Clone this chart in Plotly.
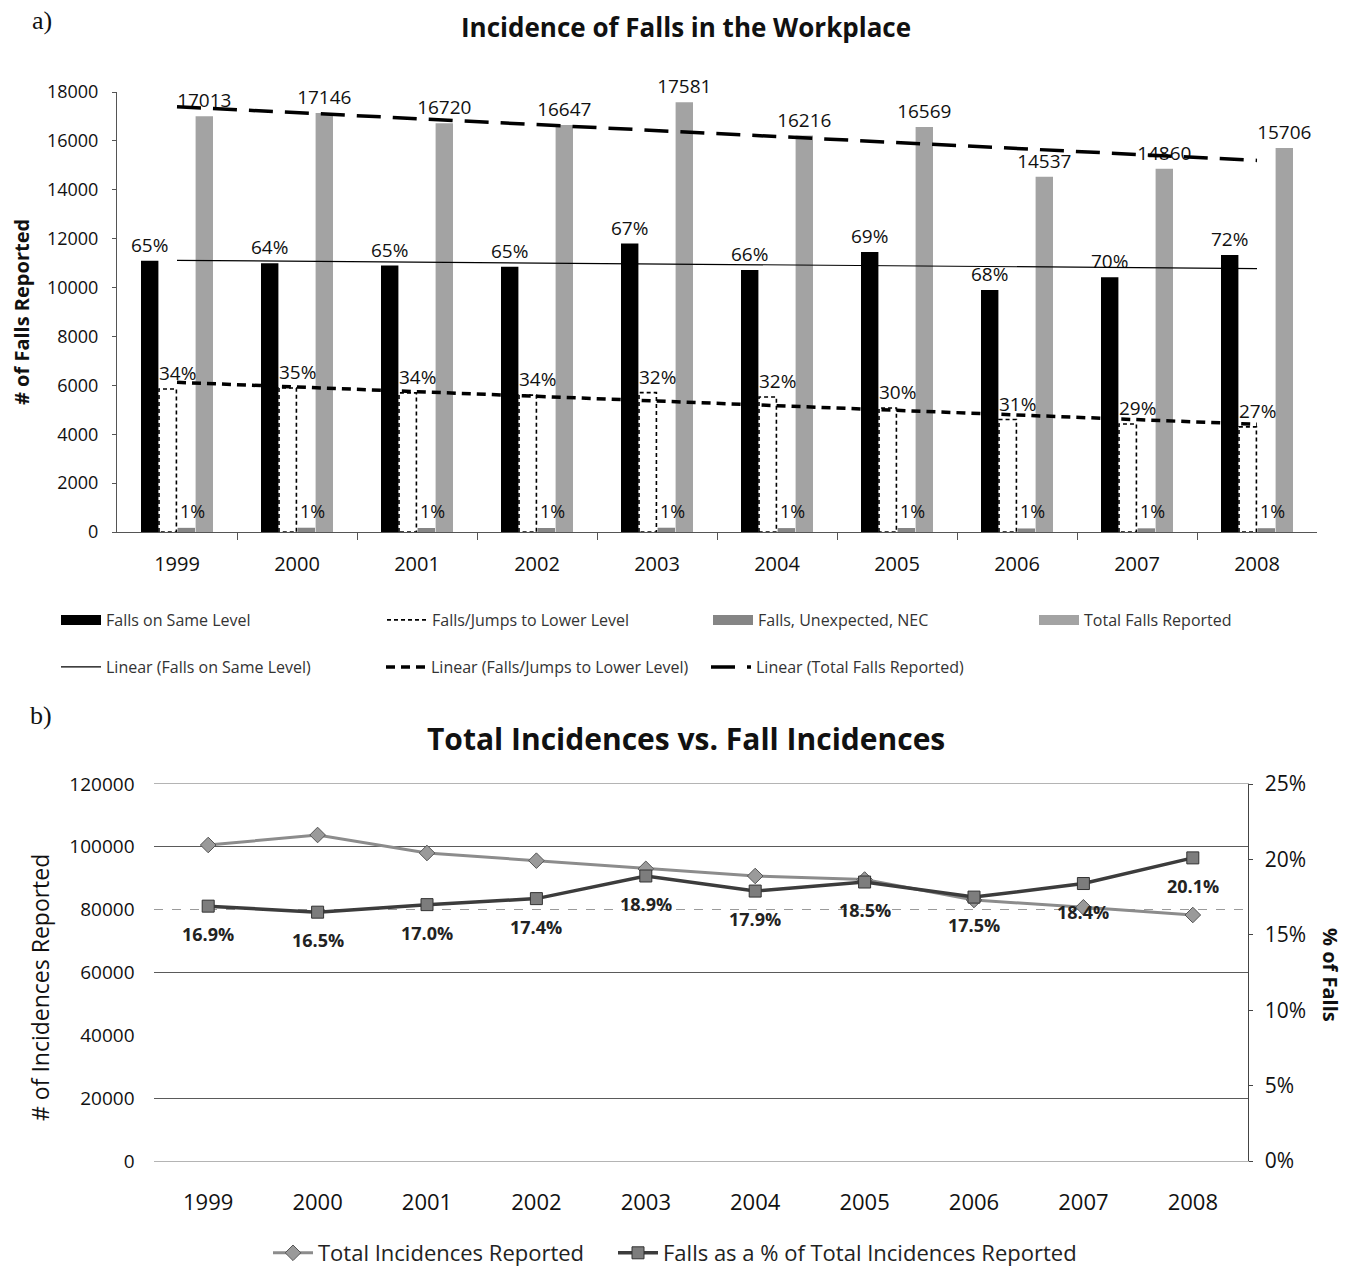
import numpy as np
import plotly.graph_objects as go

# ---- data: (a) falls in the workplace by type ----
years = ["1999", "2000", "2001", "2002", "2003", "2004", "2005", "2006", "2007", "2008"]
same_level = [11100, 10990, 10900, 10850, 11800, 10720, 11450, 9900, 10420, 11330]
same_level_pct = ["65%", "64%", "65%", "65%", "67%", "66%", "69%", "68%", "70%", "72%"]
lower_level = [5850, 5890, 5690, 5600, 5700, 5520, 5070, 4600, 4420, 4300]
lower_level_pct = ["34%", "35%", "34%", "34%", "32%", "32%", "30%", "31%", "29%", "27%"]
unexpected_nec = [170, 175, 165, 165, 175, 160, 165, 145, 150, 155]
unexpected_pct = ["1%", "1%", "1%", "1%", "1%", "1%", "1%", "1%", "1%", "1%"]
total_falls = [17013, 17146, 16720, 16647, 17581, 16216, 16569, 14537, 14860, 15706]

# ---- data: (b) total incidences vs falls share ----
total_incidences = [100580, 103770, 98040, 95600, 93000, 90720, 89600, 83080, 80760, 78300]
falls_share = [16.9, 16.5, 17.0, 17.4, 18.9, 17.9, 18.5, 17.5, 18.4, 20.1]

FONT = "Open Sans"
W, H = 1353, 1267
idx = np.arange(len(years))
BW = 0.145  # bar width in category units
OFFS = [-0.30, -0.15, 0.005, 0.155]
INC_MAX = 120000
SHARE_MAX = 25

BLACK, NEC_GRAY, TOTAL_GRAY = "#000000", "#858585", "#a3a3a3"


def px_x(p):
    return p / W


def px_y(p):
    return 1 - p / H


def outline_path(xc, vals, off, w):
    xs, ys = [], []
    for x, v in zip(xc, vals):
        x0, x1 = x + off, x + off + w
        xs += [x0, x0, x1, x1, x0, None]
        ys += [0, v, v, 0, 0, None]
    return xs, ys


def trend(vals):
    k, b = np.polyfit(idx, vals, 1)
    return [idx[0], idx[-1]], [b + k * idx[0], b + k * idx[-1]]


def swatch(name, color):
    # legend-only entry drawn as a wide filled block
    return go.Scatter(x=[None], y=[None], mode="lines", name=name,
                      line=dict(color=color, width=10), legend="legend",
                      hoverinfo="skip", xaxis="x", yaxis="y")


fig = go.Figure()
label_font = dict(family=FONT, size=19, color="#111")

fig.add_trace(go.Bar(
    x=idx, y=same_level, width=BW, offset=OFFS[0], name="Falls on Same Level",
    marker=dict(color=BLACK, line=dict(width=0)), showlegend=False,
    text=same_level_pct, textposition="outside", textfont=label_font, constraintext="none",
    cliponaxis=False, xaxis="x", yaxis="y"))
fig.add_trace(swatch("Falls on Same Level", BLACK))
fig.add_trace(go.Bar(
    x=idx, y=lower_level, width=BW, offset=OFFS[1], name="Falls/Jumps to Lower Level",
    marker=dict(color="#ffffff", line=dict(width=0)), showlegend=False,
    xaxis="x", yaxis="y"))
ox, oy = outline_path(idx, lower_level, OFFS[1], BW)
fig.add_trace(go.Scatter(
    x=ox, y=oy, mode="lines", name="Falls/Jumps to Lower Level",
    line=dict(color="#000", width=1.6, dash="4px,3px"), hoverinfo="skip",
    legend="legend", xaxis="x", yaxis="y"))
fig.add_trace(go.Bar(
    x=idx, y=unexpected_nec, width=BW, offset=OFFS[2], name="Falls, Unexpected, NEC",
    marker=dict(color=NEC_GRAY, line=dict(width=0)), showlegend=False,
    xaxis="x", yaxis="y"))
fig.add_trace(swatch("Falls, Unexpected, NEC", NEC_GRAY))
fig.add_trace(go.Bar(
    x=idx, y=total_falls, width=BW, offset=OFFS[3], name="Total Falls Reported",
    marker=dict(color=TOTAL_GRAY, line=dict(width=0)), showlegend=False,
    text=[str(v) for v in total_falls], textposition="outside", textfont=label_font,
    constraintext="none", cliponaxis=False, xaxis="x", yaxis="y"))
fig.add_trace(swatch("Total Falls Reported", TOTAL_GRAY))

tx, ty = trend(same_level)
fig.add_trace(go.Scatter(x=tx, y=ty, mode="lines", name="Linear (Falls on Same Level)",
                         line=dict(color="#000", width=1.2), legend="legend2",
                         xaxis="x", yaxis="y"))
tx, ty = trend(lower_level)
fig.add_trace(go.Scatter(x=tx, y=ty, mode="lines", name="Linear (Falls/Jumps to Lower Level)",
                         line=dict(color="#000", width=3.5, dash="9px,6px"), legend="legend2",
                         xaxis="x", yaxis="y"))
tx, ty = trend(total_falls)
fig.add_trace(go.Scatter(x=tx, y=ty, mode="lines", name="Linear (Total Falls Reported)",
                         line=dict(color="#000", width=3.5, dash="24px,12px"), legend="legend2",
                         xaxis="x", yaxis="y"))

# ---- (b) lines ----
fig.add_trace(go.Scatter(
    x=years, y=total_incidences, mode="lines+markers", name="Total Incidences Reported",
    line=dict(color="#8c8c8c", width=3),
    marker=dict(symbol="diamond", size=12, color="#9a9a9a", line=dict(color="#555", width=1)),
    legend="legend3", xaxis="x2", yaxis="y2"))
fig.add_trace(go.Scatter(
    x=years, y=falls_share, mode="lines+markers",
    name="Falls as a % of Total Incidences Reported",
    line=dict(color="#3c3c3c", width=3.5),
    marker=dict(symbol="square", size=12, color="#7d7d7d", line=dict(color="#333", width=1)),
    cliponaxis=False, legend="legend4", xaxis="x2", yaxis="y3"))

# solid gridlines every other tick, a faint dashed one at 80000
solid_grid = [20000, 60000, 100000]
faint_grid = [80000 / INC_MAX * SHARE_MAX]

fig.update_layout(
    width=W, height=H, margin=dict(l=0, r=0, t=0, b=0, autoexpand=False),
    paper_bgcolor="white", plot_bgcolor="white",
    barmode="overlay", font=dict(family=FONT, color="#111"),
    xaxis=dict(domain=[px_x(117), px_x(1317)], anchor="y", range=[-0.5, 9.5], automargin=False,
               tickmode="array", tickvals=list(idx), ticktext=years, ticks="",
               showline=True, linecolor="#555", linewidth=1, showgrid=False, zeroline=False,
               minor=dict(tickmode="array", tickvals=list(idx[:-1] + 0.5), ticks="outside",
                          ticklen=7, tickcolor="#555"),
               tickfont=dict(family=FONT, size=20, color="#111"), ticklabelstandoff=14),
    yaxis=dict(domain=[px_y(532), px_y(92)], anchor="x", range=[0, 18000], dtick=2000,
               tickformat="d", automargin=False,
               showgrid=False, zeroline=False, showline=True, linecolor="#555", linewidth=1,
               ticks="outside", ticklen=4, tickcolor="#555",
               tickfont=dict(family=FONT, size=18, color="#111"), ticklabelstandoff=10),
    xaxis2=dict(domain=[px_x(153.5), px_x(1247.5)], anchor="y2", type="category",
                range=[-0.5, 9.5], showline=True, mirror=True, linecolor="#b4b4b4",
                linewidth=1, showgrid=False, ticks="", automargin=False,
                tickfont=dict(family=FONT, size=22, color="#111"), ticklabelstandoff=22),
    yaxis2=dict(domain=[px_y(1161), px_y(784)], anchor="x2", range=[0, INC_MAX], dtick=20000,
                tickformat="d", automargin=False,
                showgrid=False, zeroline=False, showline=False,
                minor=dict(tickmode="array", tickvals=solid_grid, showgrid=True,
                           gridcolor="#5a5a5a", gridwidth=1, ticks=""),
                ticks="", tickfont=dict(family=FONT, size=19, color="#111"),
                ticklabelstandoff=18),
    yaxis3=dict(domain=[px_y(1161), px_y(784)], anchor="x2", overlaying="y2", side="right",
                range=[0, SHARE_MAX], dtick=5, automargin=False,
                ticksuffix="%", showgrid=False, zeroline=False, showline=True,
                minor=dict(tickmode="array", tickvals=faint_grid, showgrid=True,
                           gridcolor="#9a9a9a", gridwidth=1, griddash="dash", ticks=""),
                linecolor="#444", linewidth=1, ticks="outside", ticklen=4, tickcolor="#444",
                tickfont=dict(family=FONT, size=21, color="#111"), ticklabelstandoff=8),
    legend=dict(orientation="h", x=px_x(56), y=px_y(620), xanchor="left", yanchor="middle",
                entrywidth=271, itemwidth=40, font=dict(family=FONT, size=16, color="#333"),
                bgcolor="rgba(0,0,0,0)"),
    legend2=dict(orientation="h", x=px_x(56), y=px_y(667), xanchor="left", yanchor="middle",
                 entrywidth=270, itemwidth=40, font=dict(family=FONT, size=16, color="#333"),
                 bgcolor="rgba(0,0,0,0)"),
    legend3=dict(orientation="h", x=px_x(268), y=px_y(1253), xanchor="left", yanchor="middle",
                 itemwidth=40, font=dict(family=FONT, size=22, color="#222"),
                 bgcolor="rgba(0,0,0,0)"),
    legend4=dict(orientation="h", x=px_x(613), y=px_y(1253), xanchor="left", yanchor="middle",
                 itemwidth=40, font=dict(family=FONT, size=22, color="#222"),
                 bgcolor="rgba(0,0,0,0)"),
    showlegend=True,
)

annotations = [
    dict(text="a)", x=px_x(30), y=px_y(20), xanchor="left", yanchor="middle",
         font=dict(family="Liberation Serif", size=26, color="#111")),
    dict(text="b)", x=px_x(28), y=px_y(715), xanchor="left", yanchor="middle",
         font=dict(family="Liberation Serif", size=26, color="#111")),
    dict(text="<b>Incidence of Falls in the Workplace</b>", x=px_x(686), y=px_y(27),
         xanchor="center", yanchor="middle", font=dict(family=FONT, size=26, color="#111")),
    dict(text="<b>Total Incidences vs. Fall Incidences</b>", x=px_x(686), y=px_y(738),
         xanchor="center", yanchor="middle", font=dict(family=FONT, size=30, color="#111")),
    dict(text="<b># of Falls Reported</b>", x=px_x(22), y=px_y(312), textangle=-90,
         xanchor="center", yanchor="middle", font=dict(family=FONT, size=20, color="#111")),
    dict(text="# of Incidences Reported", x=px_x(40), y=px_y(988), textangle=-90,
         xanchor="center", yanchor="middle", font=dict(family=FONT, size=23, color="#111")),
    dict(text="<b>% of Falls</b>", x=px_x(1331), y=px_y(975), textangle=90,
         xanchor="center", yanchor="middle", font=dict(family=FONT, size=20, color="#111")),
]
for a in annotations:
    a.update(xref="paper", yref="paper", showarrow=False)

# share labels for lower-level and NEC bars, drawn above the neighbouring bars
for i in idx:
    annotations.append(dict(
        x=int(i), y=lower_level[i], xref="x", yref="y", text=lower_level_pct[i],
        showarrow=False, xanchor="center", yanchor="bottom", yshift=1,
        font=dict(family=FONT, size=19, color="#111")))
    annotations.append(dict(
        x=int(i) + OFFS[2] + BW / 2, y=unexpected_nec[i], xref="x", yref="y",
        text=unexpected_pct[i], showarrow=False, xanchor="center", yanchor="bottom",
        xshift=6, yshift=3, font=dict(family=FONT, size=18, color="#111")))

# value labels under the share markers
for i in idx:
    annotations.append(dict(
        x=int(i), y=falls_share[i], xref="x2", yref="y3",
        text=f"<b>{falls_share[i]:.1f}%</b>", showarrow=False,
        yshift=-28, xanchor="center", yanchor="middle",
        font=dict(family=FONT, size=18, color="#222")))
fig.update_layout(annotations=annotations)

fig.write_html("out.html")
